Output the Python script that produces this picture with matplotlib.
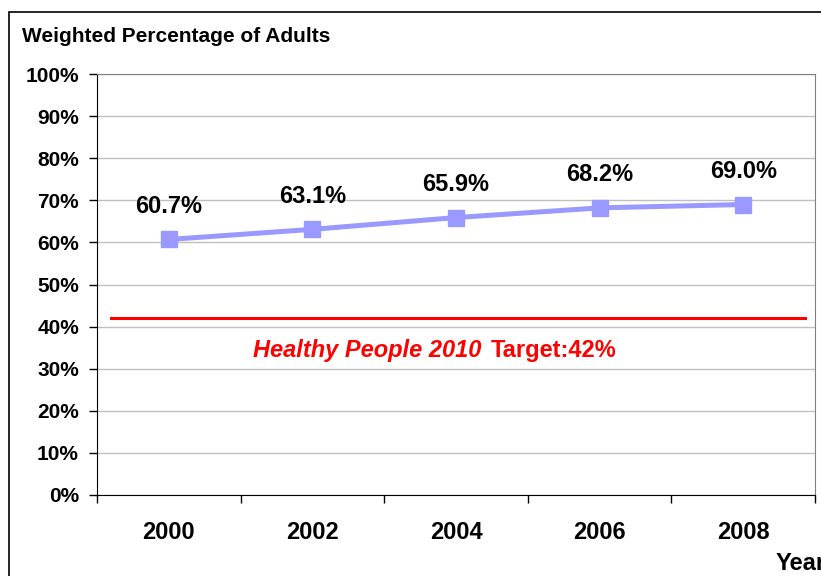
import matplotlib.pyplot as plt
from matplotlib.patches import Rectangle

# data
years = ['2000', '2002', '2004', '2006', '2008']
pct = [60.7, 63.1, 65.9, 68.2, 69.0]
target = 42

plt.rcParams['font.family'] = ['Liberation Sans', 'DejaVu Sans']

fig = plt.figure(figsize=(8.21, 5.76), dpi=100)
ax = fig.add_axes([97/821, 1-495/576, (815-97)/821, (495-74)/576])

x = list(range(len(years)))
ax.plot(x, pct, color='#9999FF', lw=3.6, marker='s', ms=11.5, zorder=3)
for xi, v in zip(x, pct):
    ax.annotate(f'{v:.1f}%', (xi, v), xytext=(0, 24), textcoords='offset points',
                ha='center', va='center', fontsize=17, fontweight='bold')

# Healthy People 2010 target
ax.plot([-0.40, 4.43], [target, target], color='#FF0000', lw=2.2, zorder=2)
ax.annotate('Healthy People 2010', (2.175, 34.4), ha='right', va='center',
            fontsize=17, fontweight='bold', fontstyle='italic', color='#FF0000')
ax.annotate('Target:42%', (2.245, 34.4), ha='left', va='center',
            fontsize=17, fontweight='bold', color='#FF0000')

ax.set_xlim(-0.5, 4.5)
ax.set_ylim(0, 100)
ax.set_yticks(range(0, 101, 10))
ax.set_yticklabels([f'{t}%' for t in range(0, 101, 10)], fontsize=15, fontweight='bold')
ax.set_xticks([i - 0.5 for i in range(len(years) + 1)])
ax.set_xticklabels([])
ax.set_xticks(x, minor=True)
ax.set_xticklabels(years, minor=True, fontsize=17, fontweight='bold')
ax.tick_params(axis='x', which='major', length=6, width=1, direction='out')
ax.tick_params(axis='x', which='minor', length=0, pad=19)
ax.tick_params(axis='y', length=6, width=1, pad=7)

ax.grid(axis='y', color='#C0C0C0', lw=1)
ax.set_axisbelow(True)
ax.spines['left'].set_color('black')
ax.spines['bottom'].set_color('black')
ax.spines['top'].set_color('#808080')
ax.spines['right'].set_color('#808080')

fig.text(22/821, 1-37/576, 'Weighted Percentage of Adults', fontsize=15,
         fontweight='bold', va='center', ha='left')
fig.text(776/821, 1-563/576, 'Year', fontsize=17, fontweight='bold', va='center', ha='left')

# outer frame (runs off the right and bottom edge)
fig.patches.append(Rectangle((9/821, -0.1), 1.0, 1.1 - 12/576, transform=fig.transFigure,
                             fill=False, edgecolor='black', lw=1.2))

plt.savefig('out.png', dpi=100)
